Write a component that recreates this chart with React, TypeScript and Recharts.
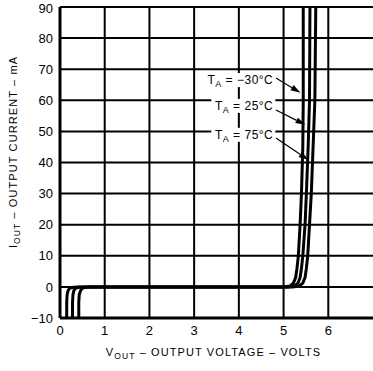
import {
    LineChart,
    Line,
    XAxis,
    YAxis,
    CartesianGrid,
    ReferenceLine,
    ReferenceDot,
} from "recharts";

// output voltage ticks (V) and output current ticks (mA)
const voltTicks = [0, 1, 2, 3, 4, 5, 6];
const currentTicks = [-10, 0, 10, 20, 30, 40, 50, 60, 70, 80, 90];

// T_A = -30°C
const coldVolts = [0.15, 0.15, 0.16, 0.18, 0.22, 0.3, 0.4, 5.0, 5.15, 5.22, 5.27, 5.3, 5.33, 5.37, 5.4, 5.43, 5.44, 5.44];
const coldAmps = [-10, -5, -2.5, -1.2, -0.4, -0.1, 0, 0, 0.3, 1.2, 3, 6, 10, 20, 30, 45, 60, 90];

// T_A = 25°C
const roomVolts = [0.28, 0.28, 0.29, 0.31, 0.35, 0.43, 0.55, 5.1, 5.25, 5.32, 5.37, 5.4, 5.43, 5.48, 5.51, 5.55, 5.58, 5.59];
const roomAmps = [-10, -5, -2.5, -1.2, -0.4, -0.1, 0, 0, 0.3, 1.2, 3, 6, 10, 20, 30, 45, 60, 90];

// T_A = 75°C
const hotVolts = [0.42, 0.42, 0.43, 0.46, 0.5, 0.58, 0.7, 5.2, 5.35, 5.43, 5.48, 5.51, 5.54, 5.58, 5.62, 5.66, 5.7, 5.72];
const hotAmps = [-10, -5, -2.5, -1.2, -0.4, -0.1, 0, 0, 0.3, 1.2, 3, 6, 10, 20, 30, 45, 60, 90];

// annotation labels: text, anchor (right end) and arrow tail/tip in data units
const tempLabels = ["−30°C", "25°C", "75°C"];
const labelVolts = [4.77, 4.77, 4.77];
const labelAmps = [66.5, 58.2, 48.9];
const arrowFromVolts = [4.83, 4.83, 4.83];
const arrowFromAmps = [67.2, 56.9, 47.9];
const arrowToVolts = [5.38, 5.49, 5.56];
const arrowToAmps = [62.4, 52.1, 40.8];

const font = '"Liberation Sans", Arial, Helvetica, sans-serif';

function toRows(volts: number[], amps: number[]) {
    return volts.map((v, i) => ({ v, i: amps[i] }));
}

const curves = [
    { name: "cold", data: toRows(coldVolts, coldAmps) },
    { name: "room", data: toRows(roomVolts, roomAmps) },
    { name: "hot", data: toRows(hotVolts, hotAmps) },
];

const Arrow = (props: any) => {
    const { x1, y1, x2, y2 } = props;
    const dx = x2 - x1;
    const dy = y2 - y1;
    const len = Math.sqrt(dx * dx + dy * dy) || 1;
    const ux = dx / len;
    const uy = dy / len;
    const head = 10;
    const half = 3;
    const bx = x2 - ux * head;
    const by = y2 - uy * head;
    const pts = `${x2},${y2} ${bx - uy * half},${by + ux * half} ${bx + uy * half},${by - ux * half}`;
    return (
        <g>
            <line x1={x1} y1={y1} x2={bx} y2={by} stroke="#000" strokeWidth={1.2} />
            <polygon points={pts} fill="#000" />
        </g>
    );
};

const tempLabel = (text: string) => (props: any) => {
    const { cx, cy } = props;
    const w = text.length > 4 ? 70 : 62;
    return (
        <g>
            <rect x={cx - w} y={cy - 7} width={w + 2} height={14} fill="#fff" />
            <text x={cx} y={cy + 4} textAnchor="end" fontFamily={font} fontSize={12} letterSpacing={0.5} fill="#000">
                T
                <tspan fontSize={9} dy={3}>A</tspan>
                <tspan dy={-3}>{" = " + text}</tspan>
            </text>
        </g>
    );
};

const XLabel = (props: any) => {
    const { viewBox } = props;
    const cx = viewBox.x + viewBox.width / 2 - 3;
    const y = viewBox.y + 38;
    return (
        <text x={cx} y={y} textAnchor="middle" fontFamily={font} fontSize={11} letterSpacing={1.1} fill="#000">
            V
            <tspan fontSize={8.5} dy={3}>OUT</tspan>
            <tspan dy={-3}>{" – OUTPUT VOLTAGE – VOLTS"}</tspan>
        </text>
    );
};

const YLabel = () => {
    const x = 17;
    const y = 152;
    return (
        <text x={x} y={y} textAnchor="middle" transform={`rotate(-90 ${x} ${y})`} fontFamily={font} fontSize={11} letterSpacing={1.1} fill="#000">
            I
            <tspan fontSize={8.5} dy={3}>OUT</tspan>
            <tspan dy={-3}>{" – OUTPUT CURRENT – mA"}</tspan>
        </text>
    );
};

export default function App() {
    return (
        <div style={{ position: "absolute", left: 0, top: 0, width: 373, height: 371, background: "#fff" }}>
            <LineChart width={373} height={371} margin={{ top: 7, right: 0, bottom: 23, left: 15 }}>
                <CartesianGrid stroke="#000" strokeWidth={2} horizontalValues={currentTicks} verticalValues={voltTicks} />
                <XAxis
                    type="number"
                    dataKey="v"
                    domain={[0, 7]}
                    ticks={voltTicks}
                    allowDataOverflow
                    height={30}
                    tickLine={false}
                    axisLine={{ stroke: "#000", strokeWidth: 3 }}
                    tick={{ fill: "#000", fontSize: 13, fontFamily: font }}
                    label={<XLabel />}
                />
                <YAxis
                    type="number"
                    domain={[-10, 90]}
                    ticks={currentTicks}
                    allowDataOverflow
                    width={45}
                    tickLine={false}
                    tickMargin={1}
                    axisLine={{ stroke: "#000", strokeWidth: 3 }}
                    tick={{ fill: "#000", fontSize: 13, fontFamily: font }}
                    tickFormatter={(t: number) => (t < 0 ? "−" + Math.abs(t) : String(t))}
                    label={<YLabel />}
                />
                {curves.map((c) => (
                    <Line
                        key={c.name}
                        data={c.data}
                        dataKey="i"
                        type="linear"
                        stroke="#000"
                        strokeWidth={3}
                        dot={false}
                        isAnimationActive={false}
                    />
                ))}
                {tempLabels.map((t, k) => (
                    <ReferenceLine
                        key={"arrow" + k}
                        segment={[
                            { x: arrowFromVolts[k], y: arrowFromAmps[k] },
                            { x: arrowToVolts[k], y: arrowToAmps[k] },
                        ]}
                        shape={Arrow}
                    />
                ))}
                {tempLabels.map((t, k) => (
                    <ReferenceDot
                        key={"label" + k}
                        x={labelVolts[k]}
                        y={labelAmps[k]}
                        r={0}
                        shape={tempLabel(t)}
                    />
                ))}
            </LineChart>
        </div>
    );
}
